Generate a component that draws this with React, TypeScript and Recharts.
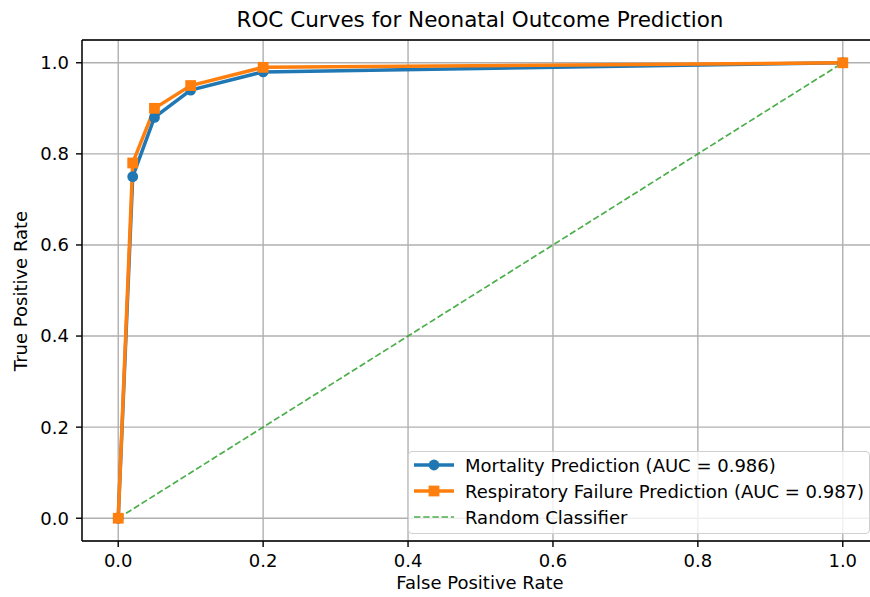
import { LineChart, Line, XAxis, YAxis, CartesianGrid, ReferenceLine } from "recharts";

// ROC points
const fprMortality = [0, 0.02, 0.05, 0.1, 0.2, 1.0];
const tprMortality = [0, 0.75, 0.88, 0.94, 0.98, 1.0];
const fprRespiratory = [0, 0.02, 0.05, 0.1, 0.2, 1.0];
const tprRespiratory = [0, 0.78, 0.9, 0.95, 0.99, 1.0];
const fprRandom = [0, 1];
const tprRandom = [0, 1];
const ticks = [0, 0.2, 0.4, 0.6, 0.8, 1.0];

const seriesNames = [
    "Mortality Prediction (AUC = 0.986)",
    "Respiratory Failure Prediction (AUC = 0.987)",
    "Random Classifier",
];

const BLUE = "#1f77b4";
const ORANGE = "#ff7f0e";
const GREEN = "#2ca02c";
const FONT = "'DejaVu Sans', sans-serif";
const FS = 18;

const toPoints = (xs: number[], ys: number[]) => xs.map((x, i) => ({ x, y: ys[i] }));

const mortality = toPoints(fprMortality, tprMortality);
const respiratory = toPoints(fprRespiratory, tprRespiratory);
const random = toPoints(fprRandom, tprRandom);

const SquareDot = (props: any) => {
    const { cx, cy, index } = props;
    if (cx == null || cy == null) return null;
    return <rect key={`sq-${index}`} x={cx - 5.4} y={cy - 5.4} width={10.8} height={10.8} fill={ORANGE} />;
};

const tickStyle = { fill: "#000", fontSize: FS, fontFamily: FONT };
const fmt = (v: number) => v.toFixed(1);

function LegendBox() {
    const rows = [
        { name: seriesNames[0], color: BLUE, kind: "circle" },
        { name: seriesNames[1], color: ORANGE, kind: "square" },
        { name: seriesNames[2], color: GREEN, kind: "dash" },
    ];
    return (
        <div
            style={{
                position: "absolute",
                left: 408,
                top: 451,
                width: 460,
                height: 81,
                border: "1px solid #d0d0d0",
                borderRadius: 4,
                background: "rgba(255,255,255,0.8)",
                fontFamily: FONT,
                fontSize: FS,
                color: "#000",
            }}
        >
            {rows.map((r, i) => (
                <div key={r.name} style={{ position: "absolute", left: 4, top: 1 + i * 26, height: 24, display: "flex", alignItems: "center" }}>
                    <svg width={42} height={24}>
                        {r.kind === "dash" ? (
                            <line x1={1} x2={41} y1={12} y2={12} stroke={GREEN} strokeOpacity={0.85} strokeWidth={1.7} strokeDasharray="6.4 2.8" />
                        ) : (
                            <line x1={1} x2={41} y1={12} y2={12} stroke={r.color} strokeWidth={3.5} />
                        )}
                        {r.kind === "circle" && <circle cx={21} cy={12} r={5.4} fill={BLUE} />}
                        {r.kind === "square" && <rect x={15.6} y={6.6} width={10.8} height={10.8} fill={ORANGE} />}
                    </svg>
                    <span style={{ marginLeft: 10, whiteSpace: "nowrap" }}>{r.name}</span>
                </div>
            ))}
        </div>
    );
}

export default function App() {
    return (
        <div style={{ position: "absolute", left: 0, top: 0, width: 870, height: 597, overflow: "hidden", background: "#fff" }}>
            <div style={{ position: "absolute", left: 0, width: 960, top: 7, textAlign: "center", fontFamily: FONT, fontSize: 21.5, color: "#000", lineHeight: "26px" }}>
                ROC Curves for Neonatal Outcome Prediction
            </div>
            <LineChart width={879} height={597} margin={{ top: 40, right: 0, bottom: 26, left: 22 }}>
                <CartesianGrid stroke="#b0b0b0" strokeWidth={1.4} />
                <XAxis
                    type="number"
                    dataKey="x"
                    domain={[-0.05, 1.05]}
                    ticks={ticks}
                    tickFormatter={fmt}
                    allowDataOverflow
                    height={30}
                    tick={tickStyle}
                    tickSize={6}
                    tickMargin={7}
                    axisLine={{ stroke: "#000", strokeWidth: 1.4 }}
                    tickLine={{ stroke: "#000", strokeWidth: 1.4 }}
                />
                <YAxis
                    type="number"
                    dataKey="y"
                    domain={[-0.05, 1.05]}
                    ticks={ticks}
                    tickFormatter={fmt}
                    allowDataOverflow
                    width={60}
                    tick={tickStyle}
                    tickSize={6}
                    tickMargin={7}
                    axisLine={{ stroke: "#000", strokeWidth: 1.4 }}
                    tickLine={{ stroke: "#000", strokeWidth: 1.4 }}
                />
                <ReferenceLine y={1.05} stroke="#000" strokeWidth={1.4} />
                <Line
                    data={mortality}
                    dataKey="y"
                    type="linear"
                    stroke={BLUE}
                    strokeWidth={3.5}
                    dot={{ r: 5.4, fill: BLUE, stroke: "none" }}
                    activeDot={false}
                    isAnimationActive={false}
                />
                <Line
                    data={respiratory}
                    dataKey="y"
                    type="linear"
                    stroke={ORANGE}
                    strokeWidth={3.5}
                    dot={<SquareDot />}
                    activeDot={false}
                    isAnimationActive={false}
                />
                <Line
                    data={random}
                    dataKey="y"
                    type="linear"
                    stroke={GREEN}
                    strokeOpacity={0.85}
                    strokeWidth={1.7}
                    strokeDasharray="6.4 2.8"
                    dot={false}
                    activeDot={false}
                    isAnimationActive={false}
                />
            </LineChart>
            <div style={{ position: "absolute", left: 0, width: 960, top: 572, textAlign: "center", fontFamily: FONT, fontSize: FS, color: "#000", lineHeight: "22px" }}>
                False Positive Rate
            </div>
            <div
                style={{
                    position: "absolute",
                    left: 21,
                    top: 291,
                    transform: "translate(-50%, -50%) rotate(-90deg)",
                    whiteSpace: "nowrap",
                    fontFamily: FONT,
                    fontSize: FS,
                    color: "#000",
                    lineHeight: "22px",
                }}
            >
                True Positive Rate
            </div>
            <LegendBox />
        </div>
    );
}
